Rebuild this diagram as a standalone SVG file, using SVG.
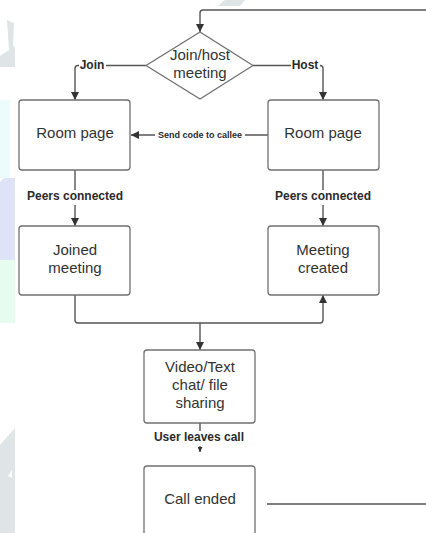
<svg xmlns="http://www.w3.org/2000/svg" width="426" height="533" viewBox="0 0 426 533">
  <style>
    .node { fill: #ffffff; stroke: #707070; stroke-width: 1.3; }
    .conn { fill: none; stroke: #555555; stroke-width: 1.4; }
    .txt { font-family: "Liberation Sans", Arial, sans-serif; font-size: 15px; fill: #333333; text-anchor: middle; }
    .lbl { font-family: "Liberation Sans", Arial, sans-serif; font-size: 12px; font-weight: bold; fill: #2b2b2b; text-anchor: middle; }
    .lbl-s { font-size: 9px; }
    .lbl-bg { fill: #ffffff; }
    .wm-gray { fill: #dfe4e7; }
  </style>
  <defs>
    <marker id="arr" viewBox="0 0 10 10" refX="10" refY="5" markerWidth="8" markerHeight="8" markerUnits="userSpaceOnUse" orient="auto">
      <path d="M0,0 L10,5 L0,10 Z" fill="#333333"/>
    </marker>
    <marker id="arr-s" viewBox="0 0 10 10" refX="10" refY="5" markerWidth="5" markerHeight="5" markerUnits="userSpaceOnUse" orient="auto">
      <path d="M0,0 L10,5 L0,10 Z" fill="#333333"/>
    </marker>
  </defs>

  <rect x="0" y="0" width="426" height="533" fill="#ffffff"/>

  <!-- background watermark -->
  <g id="watermark">
    <polygon class="wm-gray" points="218,6 225,0 245,0 240,6"/>
    <polygon class="wm-gray" points="7,20 14,23 13,45 15,48 15,67 0,67 0,56 9,50"/>
    <path d="M0,100 L10,100 L10,178 L0,178 Z" fill="#ecfcfc"/>
    <path d="M4,178 L15,178 L15,260 L0,260 L0,182 Z" fill="#dfe3f7"/>
    <path d="M0,260 L15,260 L15,323 L0,323 Z" fill="#e6fcef"/>
    <path d="M15,428 L15,533 L0,533 L0,445 Z M8,476 L12,470 L12,478 Z" class="wm-gray" fill-rule="evenodd"/>
  </g>

  <g id="connectors">
    <path class="conn" d="M426,10 L203,10 Q200,10 200,13 L200,32" marker-end="url(#arr)"/>
    <path class="conn" d="M146,65.5 L78,65.5 Q75,65.5 75,68.5 L75,100" marker-end="url(#arr)"/>
    <path class="conn" d="M253,65.5 L320,65.5 Q323,65.5 323,68.5 L323,100" marker-end="url(#arr)"/>
    <path class="conn" d="M268,135 L131,135" marker-end="url(#arr)"/>
    <path class="conn" d="M75,170 L75,190"/>
    <path class="conn" d="M75,205 L75,226" marker-end="url(#arr)"/>
    <path class="conn" d="M323,170 L323,190"/>
    <path class="conn" d="M323,205 L323,226" marker-end="url(#arr)"/>
    <path class="conn" d="M75,295 L75,320 Q75,323 78,323 L320,323 Q323,323 323,320 L323,295" marker-end="url(#arr)"/>
    <path class="conn" d="M200,323 L200,350" marker-end="url(#arr)"/>
    <path class="conn" d="M200,423 L200,431"/>
    <path class="conn" d="M200,446 L200,452" marker-end="url(#arr-s)"/>
    <path class="conn" d="M267,504 L426,504"/>
    <rect class="lbl-bg" x="79" y="59" width="27" height="13"/>
    <rect class="lbl-bg" x="291" y="59" width="29" height="13"/>
    <rect class="lbl-bg" x="155" y="129" width="90" height="12"/>
    <text class="lbl" x="92" y="69">Join</text>
    <text class="lbl" x="305" y="69">Host</text>
    <text class="lbl lbl-s" x="200" y="138">Send code to callee</text>
    <text class="lbl" x="75" y="200">Peers connected</text>
    <text class="lbl" x="323" y="200">Peers connected</text>
    <text class="lbl" x="199" y="441">User leaves call</text>
  </g>

  <g id="decision">
    <path class="node" d="M200,32 L253,65.5 L200,99 L146,65.5 Z" stroke-linejoin="round"/>
    <text class="txt" x="200" y="60">Join/host</text>
    <text class="txt" x="200" y="78">meeting</text>
  </g>
  <g id="room-join">
    <rect class="node" x="19" y="100" width="111" height="70" rx="3"/>
    <text class="txt" x="75" y="138">Room page</text>
  </g>
  <g id="room-host">
    <rect class="node" x="268" y="100" width="111" height="70" rx="3"/>
    <text class="txt" x="323" y="138">Room page</text>
  </g>
  <g id="joined">
    <rect class="node" x="19" y="226" width="111" height="69" rx="3"/>
    <text class="txt" x="75" y="255">Joined</text>
    <text class="txt" x="75" y="273">meeting</text>
  </g>
  <g id="created">
    <rect class="node" x="268" y="226" width="111" height="69" rx="3"/>
    <text class="txt" x="323" y="255">Meeting</text>
    <text class="txt" x="323" y="273">created</text>
  </g>
  <g id="chat">
    <rect class="node" x="144" y="350" width="111" height="73" rx="3"/>
    <text class="txt" x="200" y="372">Video/Text</text>
    <text class="txt" x="200" y="390">chat/ file</text>
    <text class="txt" x="200" y="408">sharing</text>
  </g>
  <g id="ended">
    <rect class="node" x="144" y="466" width="111" height="80" rx="3"/>
    <text class="txt" x="200" y="504">Call ended</text>
  </g>
</svg>
